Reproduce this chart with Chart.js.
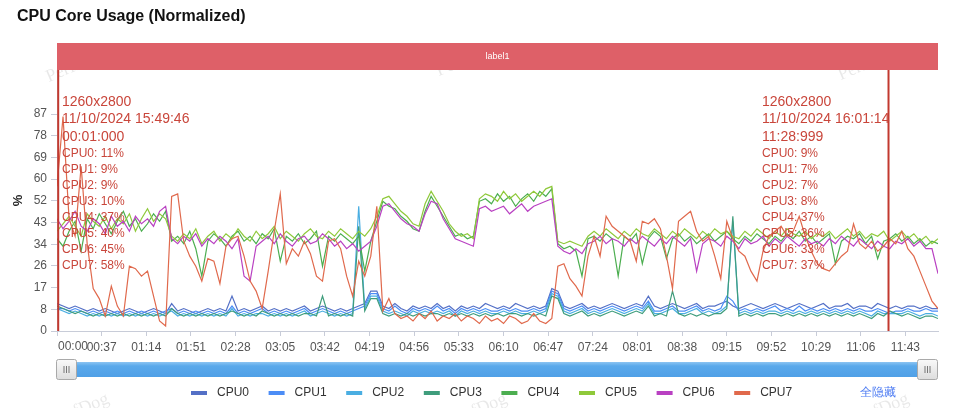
<!DOCTYPE html>
<html>
<head>
<meta charset="utf-8">
<script src="https://cdn.jsdelivr.net/npm/chart.js@4.4.1/dist/chart.umd.min.js"></script>
<style>
  html, body { margin: 0; padding: 0; background: #fff; }
  #wrap { position: relative; width: 960px; height: 408px; overflow: hidden; }
  #title { position: absolute; left: 17px; top: 7px; font: bold 16px "Liberation Sans", Arial, sans-serif; color: #111; }
  canvas { position: absolute; left: 0; top: 0; }
</style>
</head>
<body>
<div id="wrap">
  <canvas id="chart" width="960" height="408"></canvas>
  <div id="title">CPU Core Usage (Normalized)</div>
</div>
<script>
// sample times in seconds since start (one point every 5 s)
const seconds = [
  0,5,10,15,20,25,30,35,40,45,50,55,60,65,70,75,80,85,90,95,
  100,105,110,115,120,125,130,135,140,145,150,155,160,165,170,175,180,185,190,195,
  200,205,210,215,220,225,230,235,240,245,250,255,260,265,270,275,280,285,290,295,
  300,305,310,315,320,325,330,335,340,345,350,355,360,365,370,375,380,385,390,395,
  400,405,410,415,420,425,430,435,440,445,450,455,460,465,470,475,480,485,490,495,
  500,505,510,515,520,525,530,535,540,545,550,555,560,565,570,575,580,585,590,595,
  600,605,610,615,620,625,630,635,640,645,650,655,660,665,670,675,680,685,690,695,
  700,705,710,715,720,725,730
];

const cpu0 = [
  11,10,9,10,9,8,9,8,9,8, 7,8,9,8,7,8,9,8,7,11, 8,9,8,7,8,9,8,9,8,14,
  8,9,8,9,10,8,9,8,9,8, 9,10,8,9,10,9,8,9,8,9, 10,11,16,16,10,9,11,9,8,10,
  9,10,9,11,9,10,8,10,9,10, 9,11,10,9,10,9,11,10,9,10, 9,10,17,16,10,9,10,11,9,10,
  9,10,11,10,9,10,11,10,14,10, 9,10,11,10,9,10,11,9,10,10, 11,12,10,9,10,11,10,9,10,11,
  10,9,10,11,10,9,10,11,9,10, 10,11,9,10,10,9,11,10,9,10, 9,10,10,9,10,9,9
];
const cpu1 = [
  9,9,8,9,8,7,8,7,8,7, 8,7,8,7,8,7,8,7,8,9, 7,8,7,8,7,8,7,8,7,10,
  7,8,7,8,9,7,8,7,8,7, 8,9,7,8,9,8,7,8,7,8, 9,10,15,15,9,8,10,8,7,9,
  8,9,8,10,8,9,7,9,8,9, 8,9,8,8,9,8,9,8,8,9, 8,9,16,15,9,8,9,10,8,9,
  8,9,10,9,8,9,10,9,12,8, 8,9,10,8,8,9,10,8,9,8, 9,14,12,8,9,8,9,8,9,10,
  8,9,8,10,8,9,8,9,8,9, 8,9,8,9,8,8,9,8,7,8, 8,9,8,8,9,8,8
];
const cpu2 = [
  9,8,7,8,7,6,7,6,7,6, 7,6,7,6,7,6,7,6,7,8, 6,7,6,7,6,7,6,7,6,9,
  6,7,6,7,7,6,7,6,7,6, 7,8,6,7,8,7,6,7,6,7, 50,9,14,14,8,7,8,7,6,8,
  7,8,7,8,7,8,6,8,7,8, 7,8,7,7,8,7,8,7,7,8, 7,8,15,14,8,7,8,9,7,8,
  7,8,9,8,7,8,9,8,11,7, 7,8,9,7,7,8,9,7,8,7, 8,10,44,7,8,7,8,7,8,8,
  7,8,7,8,7,8,7,8,7,8, 7,8,7,8,7,6,8,7,7,7, 7,8,7,6,7,7,6
];
const cpu3 = [
  10,9,8,7,8,7,6,7,6,7, 6,7,6,7,6,7,6,7,6,9, 7,6,7,6,7,6,7,6,7,8,
  7,6,7,6,8,7,6,7,6,7, 6,7,7,6,14,6,7,6,7,6, 42,8,13,13,7,6,7,6,7,6,
  7,6,7,7,6,7,6,7,6,7, 6,7,6,7,6,7,7,6,7,6, 7,6,14,13,7,6,7,8,6,7,
  6,7,8,7,6,7,8,7,10,6, 7,6,16,7,6,7,6,7,6,7, 7,9,46,6,7,6,7,6,7,7,
  6,7,6,7,6,7,6,7,6,7, 6,7,6,7,6,5,7,6,8,7, 6,7,6,5,6,6,5
];
const cpu4 = [
  37,34,40,44,32,45,41,47,43,39, 44,48,42,45,40,43,47,44,48,36, 38,35,40,33,22,36,39,37,34,38,
  40,36,38,35,39,37,41,28,38,36, 39,35,37,40,26,38,36,39,37,35, 38,24,36,44,52,50,49,46,44,41,
  40,48,54,50,46,42,38,39,37,38, 52,53,51,55,52,54,50,53,55,52, 56,54,57,35,33,34,32,22,37,38,
  36,39,37,22,38,36,39,27,37,40, 38,29,37,39,36,38,35,37,39,36, 38,40,37,35,38,36,39,37,35,38,
  36,39,37,40,36,38,35,37,39,27, 36,38,37,39,35,38,29,36,37,39, 36,38,35,37,34,36,35
];
const cpu5 = [
  40,43,46,42,38,47,44,42,46,41, 45,43,47,40,45,49,44,47,45,38, 36,39,37,41,35,38,40,36,39,37,
  41,38,36,40,37,39,42,37,40,38, 36,39,41,38,37,40,38,41,39,37, 40,38,41,46,53,54,51,48,46,43,
  42,51,56,52,48,43,40,38,39,37, 53,55,54,52,56,53,55,52,54,56, 54,57,58,36,35,36,35,34,38,40,
  38,41,39,37,40,38,41,39,38,41, 39,37,40,38,41,39,37,40,38,41, 39,40,38,37,40,38,41,39,37,40,
  38,41,39,38,40,37,39,38,40,37, 39,41,38,40,37,39,38,40,36,38, 40,37,39,36,38,35,37
];
const cpu6 = [
  45,41,44,48,42,40,45,43,39,46, 42,44,40,46,43,45,42,48,50,37, 35,38,36,39,34,37,35,38,36,33,
  37,22,20,34,36,38,35,39,36,34, 37,38,35,36,39,37,34,36,33,35, 32,34,36,42,50,51,48,45,43,42,
  40,47,52,51,45,41,37,36,35,34, 49,50,48,49,50,47,49,51,48,50, 51,52,53,34,32,31,33,31,35,36,
  38,35,37,36,34,37,35,38,36,34, 37,35,38,36,34,37,24,35,37,36, 34,38,36,33,37,35,36,38,34,37,
  35,38,36,34,37,35,36,34,37,35, 38,36,34,37,35,33,36,34,33,36, 35,37,34,36,33,33,23
];
const cpu7 = [
  58,86,45,38,66,35,17,13,6,18, 10,6,26,25,22,24,14,4,2,54, 55,36,30,26,20,29,28,19,34,37,
  38,30,20,16,9,24,40,55,27,33, 30,36,31,22,20,36,37,33,22,14, 28,22,30,50,8,13,7,5,6,4,
  7,5,8,4,6,5,7,4,6,5, 3,6,4,5,3,6,5,3,4,7, 4,3,5,26,27,21,18,14,30,38,
  30,46,42,40,38,36,28,44,43,45, 41,30,17,44,46,48,40,36,38,30, 21,44,37,32,30,24,20,32,38,40,
  42,38,40,46,38,32,27,25,24,27, 30,32,43,35,33,36,32,34,37,35, 40,33,30,24,18,12,9
];

const seriesNames = ['CPU0', 'CPU1', 'CPU2', 'CPU3', 'CPU4', 'CPU5', 'CPU6', 'CPU7'];
const seriesValues = [cpu0, cpu1, cpu2, cpu3, cpu4, cpu5, cpu6, cpu7];
const seriesColors = ['#5470c6', '#4c8df6', '#4aaee2', '#3f9d7c', '#4cae50', '#8fc93a', '#b941c2', '#e0694c'];

const xTickSeconds = [0,37,74,111,148,185,222,259,296,333,370,407,444,481,518,555,592,629,666,703];
const xTickLabels = ['00:00','00:37','01:14','01:51','02:28','03:05','03:42','04:19','04:56','05:33',
  '06:10','06:47','07:24','08:01','08:38','09:15','09:52','10:29','11:06','11:43'];
const yTickValues = [0, 8.7, 17.4, 26.1, 34.8, 43.5, 52.2, 60.9, 69.6, 78.3, 87];
const yTickLabels = ['0','8','17','26','34','43','52','60','69','78','87'];

// the two marked frames
const markers = [
  { t: 1, lines: ['1260x2800', '11/10/2024 15:49:46', '00:01:000'],
    cpu: ['CPU0: 11%','CPU1: 9%','CPU2: 9%','CPU3: 10%','CPU4: 37%','CPU5: 40%','CPU6: 45%','CPU7: 58%'], textX: 62 },
  { t: 689, lines: ['1260x2800', '11/10/2024 16:01:14', '11:28:999'],
    cpu: ['CPU0: 9%','CPU1: 7%','CPU2: 7%','CPU3: 8%','CPU4: 37%','CPU5: 36%','CPU6: 33%','CPU7: 37%'], textX: 762 }
];

const FONT = '"Liberation Sans", Arial, Helvetica, sans-serif';

const decor = {
  id: 'decor',
  beforeDraw(chart) {
    const ctx = chart.ctx;
    // faint watermarks
    ctx.save();
    ctx.fillStyle = 'rgba(0,0,0,0.09)';
    ctx.font = '18px "Liberation Serif", "DejaVu Serif", serif';
    ctx.textAlign = 'center';
    ctx.textBaseline = 'middle';
    [[75, 66], [465, 60], [867, 64], [80, 410], [478, 410], [880, 410]].forEach(([x, y]) => {
      ctx.save();
      ctx.translate(x, y);
      ctx.rotate(-0.4);
      ctx.fillText('PerfDog', 0, 0);
      ctx.restore();
    });
    ctx.restore();
  },
  afterDatasetsDraw(chart) {
    const ctx = chart.ctx;
    const area = chart.chartArea;
    const xs = chart.scales.x;
    // label band
    ctx.save();
    ctx.fillStyle = '#de6068';
    ctx.fillRect(area.left, 43, area.right - area.left, 27);
    ctx.fillStyle = '#fff';
    ctx.font = '9px ' + FONT;
    ctx.textAlign = 'center';
    ctx.textBaseline = 'middle';
    ctx.fillText('label1', (area.left + area.right) / 2, 57);
    // marker lines + text
    markers.forEach(m => {
      const x = xs.getPixelForValue(m.t);
      ctx.strokeStyle = '#c2392f';
      ctx.lineWidth = 2;
      ctx.beginPath();
      ctx.moveTo(x, 70);
      ctx.lineTo(x, area.bottom);
      ctx.stroke();
      ctx.fillStyle = '#c9463b';
      ctx.textAlign = 'left';
      ctx.font = '14px ' + FONT;
      m.lines.forEach((s, i) => ctx.fillText(s, m.textX, 102 + i * 17.5));
      ctx.font = '12px ' + FONT;
      m.cpu.forEach((s, i) => ctx.fillText(s, m.textX, 154 + i * 16));
    });
    ctx.restore();
  },
  afterDraw(chart) {
    const ctx = chart.ctx;
    ctx.save();
    // first x label, left aligned like the original
    ctx.fillStyle = '#555';
    ctx.font = '12px ' + FONT;
    ctx.textAlign = 'left';
    ctx.textBaseline = 'middle';
    ctx.fillText(xTickLabels[0], 58, 347);

    // zoom slider
    const g = ctx.createLinearGradient(0, 362, 0, 378);
    g.addColorStop(0, '#8cc4f2');
    g.addColorStop(0.25, '#5aa9eb');
    g.addColorStop(1, '#4f9fe6');
    ctx.fillStyle = g;
    ctx.fillRect(60, 362, 875, 15);
    [[56, 359], [917, 359]].forEach(([hx, hy]) => {
      const hg = ctx.createLinearGradient(0, hy, 0, hy + 21);
      hg.addColorStop(0, '#fafafa');
      hg.addColorStop(1, '#dcdcdc');
      ctx.fillStyle = hg;
      ctx.strokeStyle = '#a9a9a9';
      ctx.lineWidth = 1;
      ctx.beginPath();
      ctx.roundRect(hx + 0.5, hy + 0.5, 20, 20, 2);
      ctx.fill();
      ctx.stroke();
      ctx.strokeStyle = '#777';
      for (let k = 0; k < 3; k++) {
        ctx.beginPath();
        ctx.moveTo(hx + 8 + k * 2.5, hy + 7);
        ctx.lineTo(hx + 8 + k * 2.5, hy + 14);
        ctx.stroke();
      }
    });

    // legend
    ctx.font = '12px ' + FONT;
    ctx.textBaseline = 'middle';
    seriesNames.forEach((name, i) => {
      const lx = 191 + i * 77.6;
      ctx.fillStyle = seriesColors[i];
      ctx.fillRect(lx, 391, 16, 4);
      ctx.fillStyle = '#333';
      ctx.fillText(name, lx + 26, 393);
    });
    ctx.fillStyle = '#4d7cf3';
    ctx.fillText('全隐藏', 860, 393);
    ctx.restore();
  }
};

new Chart(document.getElementById('chart'), {
  type: 'line',
  data: {
    labels: seconds,
    datasets: seriesNames.map((name, i) => ({
      label: name,
      data: seriesValues[i].map((v, k) => ({ x: seconds[k], y: v })),
      borderColor: seriesColors[i],
      backgroundColor: seriesColors[i],
      borderWidth: 1.2,
      pointRadius: 0,
      tension: 0,
      order: 8 - i
    }))
  },
  options: {
    responsive: false,
    animation: false,
    layout: { padding: { left: 11, right: 22, top: 70, bottom: 47 } },
    plugins: { legend: { display: false }, tooltip: { enabled: false } },
    scales: {
      x: {
        type: 'linear',
        min: 0,
        max: 730,
        afterBuildTicks: s => { s.ticks = xTickSeconds.map(v => ({ value: v })); },
        afterFit: s => { s.height = 30; },
        ticks: {
          autoSkip: false,
          maxRotation: 0,
          padding: 4,
          color: '#555',
          font: { size: 12, family: FONT },
          callback: (v, i) => (i === 0 ? '' : xTickLabels[i])
        },
        grid: { drawOnChartArea: false, drawTicks: true, tickLength: 5, color: '#c8ccd8' },
        border: { display: true, color: '#c8ccd8' }
      },
      y: {
        min: 0,
        max: 104.65,
        afterBuildTicks: s => { s.ticks = yTickValues.map(v => ({ value: v })); },
        afterFit: s => { s.width = 46; },
        ticks: {
          padding: 4,
          color: '#555',
          font: { size: 12, family: FONT },
          callback: (v, i) => yTickLabels[i]
        },
        grid: { drawOnChartArea: false, drawTicks: true, tickLength: 6, color: '#c8ccd8' },
        border: { display: true, color: '#c8ccd8' },
        title: { display: true, text: '%', color: '#222', font: { size: 13, weight: 'bold', family: FONT }, padding: 0 }
      }
    }
  },
  plugins: [decor]
});
</script>
</body>
</html>
